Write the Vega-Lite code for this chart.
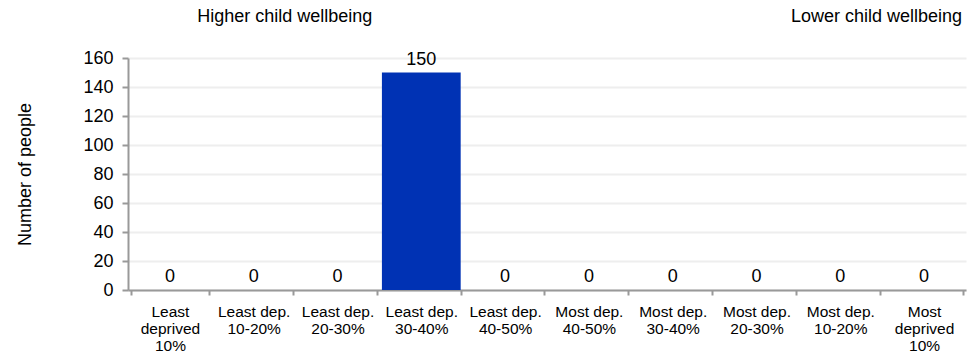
{
  "$schema": "https://vega.github.io/schema/vega-lite/v6.json",
  "autosize": "none",
  "width": 838,
  "height": 232,
  "padding": {"left": 128, "top": 58, "right": 9, "bottom": 63},
  "background": "white",
  "config": {
    "font": "Liberation Sans",
    "view": {"stroke": null}
  },
  "datasets": {
    "bars": [
      {"group": "Least|deprived|10%", "people": 0},
      {"group": "Least dep.|10-20%", "people": 0},
      {"group": "Least dep.|20-30%", "people": 0},
      {"group": "Least dep.|30-40%", "people": 150},
      {"group": "Least dep.|40-50%", "people": 0},
      {"group": "Most dep.|40-50%", "people": 0},
      {"group": "Most dep.|30-40%", "people": 0},
      {"group": "Most dep.|20-30%", "people": 0},
      {"group": "Most dep.|10-20%", "people": 0},
      {"group": "Most|deprived|10%", "people": 0}
    ],
    "notes": [
      {"group": "Least dep.|10-20%", "people": 188, "note": "Higher child wellbeing", "side": "left"},
      {"group": "Most|deprived|10%", "people": 188, "note": "Lower child wellbeing", "side": "right"}
    ]
  },
  "encoding": {
    "x": {
      "field": "group",
      "type": "nominal",
      "sort": null,
      "scale": {"paddingInner": 0.06, "paddingOuter": 0.03},
      "axis": {
        "title": null,
        "labelAngle": 0,
        "labelExpr": "datum.value ? split(datum.value, '|') : ''",
        "labelFontSize": 15.5,
        "labelLineHeight": 17,
        "labelColor": "#000000",
        "labelPadding": 9,
        "labelBaseline": "top",
        "tickBand": "extent",
        "tickSize": 5,
        "tickColor": "#999999",
        "tickWidth": 2,
        "domainColor": "#999999",
        "domainWidth": 2,
        "grid": false
      }
    },
    "y": {
      "field": "people",
      "type": "quantitative",
      "scale": {"domain": [0, 160], "nice": false},
      "axis": {
        "title": "Number of people",
        "titleFontSize": 18,
        "titleFontWeight": "normal",
        "titleColor": "#000000",
        "titlePadding": 48,
        "values": [0, 20, 40, 60, 80, 100, 120, 140, 160],
        "labelOverlap": false,
        "labelFontSize": 18,
        "labelColor": "#000000",
        "labelPadding": 9,
        "tickSize": 6,
        "tickColor": "#999999",
        "tickWidth": 2,
        "domainColor": "#999999",
        "domainWidth": 2,
        "gridColor": "#eeeeee",
        "gridWidth": 2
      }
    }
  },
  "layer": [
    {
      "data": {"name": "bars"},
      "mark": {"type": "bar", "color": "#0032b4"}
    },
    {
      "data": {"name": "bars"},
      "mark": {"type": "text", "fontSize": 18, "color": "#000000", "dy": -8, "baseline": "alphabetic"},
      "encoding": {
        "text": {"field": "people", "type": "quantitative"}
      }
    },
    {
      "data": {"name": "notes"},
      "transform": [{"filter": "datum.side == 'left'"}],
      "mark": {"type": "text", "fontSize": 18, "color": "#000000", "dx": 31, "align": "center", "baseline": "middle"},
      "encoding": {
        "text": {"field": "note"}
      }
    },
    {
      "data": {"name": "notes"},
      "transform": [{"filter": "datum.side == 'right'"}],
      "mark": {"type": "text", "fontSize": 18, "color": "#000000", "dx": 38, "align": "right", "baseline": "middle"},
      "encoding": {
        "text": {"field": "note"}
      }
    }
  ]
}
